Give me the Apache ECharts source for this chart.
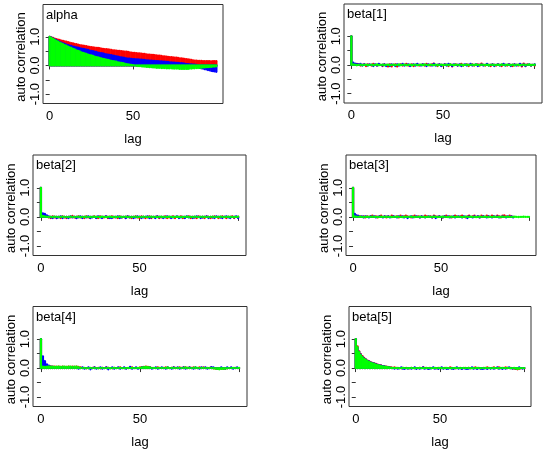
<!DOCTYPE html>
<html>
<head>
<meta charset="utf-8">
<script src="https://cdn.jsdelivr.net/npm/echarts@6/dist/echarts.min.js"></script>
<style>html,body{margin:0;padding:0;background:#fff}#c{width:550px;height:453px}</style>
</head>
<body>
<div id="c"></div>
<script>
// Panel names
const panelNames = ['alpha', 'beta[1]', 'beta[2]', 'beta[3]', 'beta[4]', 'beta[5]'];
// Tick values / labels
const xTickValues = [0, 50, 100];
const xLabelValues = [0, 50];
const yTickValues = [-1, -0.5, 0, 0.5, 1];
const yLabelValues = [-1, 0, 1];
const chainColors = ['#ff0000', '#0000ff', '#00ff00'];

// Autocorrelation values, index = lag (0..100). Order per panel: red, blue, green.
const alphaRed = [1.00,
 .98,.96,.94,.92,.90,.89,.87,.86,.84,.83,
 .81,.80,.78,.77,.75,.74,.73,.71,.70,.69,
 .68,.67,.66,.65,.64,.63,.62,.61,.61,.60,
 .59,.58,.57,.57,.56,.55,.54,.53,.53,.52,
 .51,.51,.50,.49,.48,.48,.47,.46,.45,.44,
 .44,.43,.42,.42,.41,.40,.40,.39,.38,.38,
 .37,.37,.36,.35,.34,.34,.33,.32,.32,.31,
 .30,.29,.29,.28,.27,.27,.26,.25,.25,.24,
 .23,.22,.21,.20,.19,.18,.17,.17,.16,.16,
 .16,.15,.15,.15,.15,.15,.14,.15,.15,.15];
const alphaBlue = [1.00,
 .97,.94,.91,.88,.85,.82,.80,.77,.75,.73,
 .71,.69,.68,.66,.65,.63,.62,.60,.59,.58,
 .57,.55,.54,.52,.51,.50,.48,.47,.45,.44,
 .43,.42,.40,.39,.38,.37,.36,.34,.33,.32,
 .31,.29,.28,.27,.26,.25,.24,.24,.23,.22,
 .22,.21,.21,.20,.20,.19,.19,.18,.18,.17,
 .17,.16,.16,.15,.15,.14,.14,.13,.13,.12,
 .12,.11,.11,.10,.10,.09,.09,.08,.08,.07,
 .06,.05,.05,.04,.04,.03,.03,.02,-.03,-.08,
 -.10,-.11,-.13,-.14,-.16,-.17,-.19,-.20,-.21,-.22];
const alphaGreen = [1.00,
 .96,.93,.89,.86,.83,.80,.77,.74,.71,.69,
 .66,.63,.61,.58,.56,.53,.51,.49,.46,.44,
 .42,.40,.38,.36,.35,.33,.31,.29,.28,.26,
 .25,.23,.22,.20,.19,.18,.16,.15,.14,.13,
 .11,.10,.09,.08,.06,.05,.04,.03,.02,.01,
 .00,-.01,-.02,-.02,-.03,-.04,-.04,-.05,-.05,-.06,
 -.06,-.07,-.07,-.08,-.08,-.08,-.09,-.09,-.09,-.10,
 -.10,-.10,-.10,-.11,-.11,-.11,-.11,-.12,-.12,-.12,
 -.12,-.12,-.12,-.11,-.11,-.10,-.10,-.09,-.09,-.08,
 -.08,-.07,-.07,-.06,-.06,-.05,-.05,-.04,-.04,-.03];

const beta1Red = [1.00,
 .05,.03,.04,.02,-.02,.00,.02,-.04,.02,.00,
 -.02,.04,.00,-.02,.02,.00,-.04,.02,.00,-.05,
 .02,-.05,.00,.02,-.05,.00,.02,-.02,.00,.04,
 -.02,.00,.02,-.04,.00,.02,-.02,.00,.02,-.02,
 .04,.00,-.02,.02,.05,.00,-.04,.02,.00,-.02,
 .02,.00,-.04,.02,-.05,.00,.02,-.02,.00,.04,
 -.02,.00,.02,-.04,.00,.02,-.02,.00,.02,-.02,
 .05,.00,-.02,.02,.00,-.04,.02,.00,-.02,.02,
 .00,-.04,.02,.00,-.02,.02,.00,-.04,.02,.00,
 -.02,.00,-.05,.05,-.04,.02,.00,-.02,.00,-.02];
const beta1Blue = [1.00,
 .08,.05,.03,.02,.04,-.02,.02,.00,-.02,.02,
 .00,-.04,.02,-.02,.04,.00,-.02,.02,-.04,.00,
 -.04,.02,.00,-.04,.02,-.02,.00,.04,-.02,.00,
 .02,-.04,.00,.02,-.02,.04,.00,-.02,.02,.00,
 -.04,.02,.00,-.02,.04,-.02,.00,.02,-.04,.00,
 .02,-.02,.04,.00,-.04,.02,.00,-.02,.02,-.04,
 .00,.02,-.02,.00,.04,-.02,.00,.02,-.04,.00,
 .02,-.02,.00,.04,-.02,.00,.02,-.04,.00,.02,
 -.02,.00,.04,-.02,.00,.02,-.04,.00,.02,-.02,
 .00,.04,-.02,.02,-.04,.00,.02,-.02,.00,.02];
const beta1Green = [1.00,
 .02,.01,-.01,.00,.01,-.01,.00,.01,-.01,.00,
 .01,-.01,.00,.02,-.01,.00,.01,-.01,.00,.01,
 -.01,.00,.01,-.01,.00,.02,-.01,.00,.01,-.01,
 .00,.01,-.02,.00,.01,-.01,.00,.01,-.01,.02,
 .00,-.01,.01,.00,-.01,.01,-.02,.00,.01,-.01,
 .00,.01,-.01,.02,.00,-.01,.01,.00,-.01,.01,
 -.02,.00,.01,-.01,.00,.01,-.01,.02,.00,-.01,
 .01,.00,-.01,.01,-.02,.00,.01,-.01,.00,.01,
 -.01,.02,.00,-.01,.01,.00,-.01,.01,-.02,.00,
 .01,-.01,.00,.01,-.01,.00,.02,-.01,.00,.01];

const beta2Red = [1.00,
 .06,.04,.03,-.02,-.04,.02,-.02,-.04,.00,-.04,
 .02,-.02,-.04,.00,-.02,.03,-.02,-.04,.02,-.02,
 .00,-.04,.02,-.02,-.04,.00,.02,-.02,-.04,.02,
 .00,-.02,.02,-.04,.00,.02,-.02,.00,-.04,.02,
 -.02,.00,-.04,.02,-.02,-.04,.00,.02,-.02,-.04,
 .02,.00,-.04,-.02,.02,-.04,.00,-.02,.02,-.04,
 -.02,.00,.02,-.04,-.02,.00,.02,-.04,.00,-.02,
 .02,-.04,-.02,.00,.02,-.04,.00,-.02,-.04,.02,
 .00,-.02,-.04,.02,.00,-.04,-.02,.02,.00,-.04,
 -.02,.02,.00,-.04,.00,-.02,.02,-.04,.00,-.02];
const beta2Blue = [1.00,
 .12,.10,.05,.02,-.02,-.04,.00,-.04,-.02,.02,
 -.04,.00,-.02,-.04,.02,-.02,.00,-.04,-.02,.02,
 -.04,.00,-.02,.02,-.04,-.02,.00,-.04,.02,-.02,
 -.04,.00,.02,-.02,-.04,-.04,.00,-.02,.02,-.04,
 -.02,.00,-.04,.02,-.02,.00,-.04,-.02,.02,.00,
 -.04,-.02,.00,.02,-.04,-.02,.00,-.04,.02,-.02,
 .00,-.04,-.02,.02,.00,-.04,-.02,.00,.02,-.04,
 -.02,.00,-.04,.02,-.02,.00,-.04,-.02,.02,.00,
 -.04,-.02,.00,.02,-.04,.00,-.02,-.04,.02,.00,
 -.02,-.04,.00,.02,-.02,-.04,.00,-.02,.02,-.04];
const beta2Green = [1.00,
 .03,.02,.01,-.01,.00,-.01,.01,.00,-.01,.00,
 .01,-.01,.00,-.01,.01,.00,-.01,.00,.01,-.01,
 .00,-.01,.01,.00,-.01,.00,.01,-.01,.00,-.01,
 .01,.00,-.01,.00,.01,-.01,.00,-.01,.00,.01,
 -.01,.00,.01,-.01,.00,-.01,.00,.01,-.01,.00,
 -.01,.01,.00,-.01,.00,.01,-.01,.00,-.01,.00,
 .01,-.01,.00,-.01,.01,.00,-.01,.00,.01,-.01,
 .00,-.01,.00,.01,-.01,.00,-.01,.01,.00,-.01,
 .00,.01,-.01,.00,-.01,.00,.01,-.01,.00,-.01,
 .01,.00,-.01,.00,.01,-.01,.00,-.01,.00,.01];

const beta3Red = [1.00,
 .05,.04,.03,.02,.00,.02,-.02,.02,.00,.02,
 .04,.00,.02,-.02,.02,.04,.00,.02,-.02,.02,
 .00,.04,.02,.00,.02,-.02,.04,.00,.02,.04,
 .02,.00,-.02,.02,.04,.00,.02,-.02,.02,.00,
 .04,.02,.00,.02,-.02,.04,.02,.00,.02,.00,
 -.02,.02,.04,.00,.02,-.02,.00,.04,.02,.00,
 .02,.04,.00,-.02,.02,.04,.00,.02,.04,.00,
 .02,-.02,.04,.02,.00,.04,.02,.00,.04,.02,
 .00,.04,.02,-.02,.04,.05,.02,.00,.04,.02,
 .00];
const beta3Blue = [1.00,
 .10,.05,.03,.00,.02,-.02,.02,.00,-.02,.02,
 .00,.02,-.02,.00,.02,.00,-.02,.02,.00,.02,
 -.02,.00,.02,.00,-.02,.02,.00,.02,-.02,.00,
 -.04,.00,.02,-.02,.00,.02,.00,-.02,.02,.00,
 -.02,.00,.02,.00,-.02,.02,-.04,.00,.02,.00,
 -.02,.02,.00,.02,-.02,.00,.02,-.02,.00,.02,
 .00,-.02,.02,.00,-.04,.02,.00,-.02,.02,.00,
 .02,-.02,.00,.02,.00,-.02,.02,.00,-.02,.02,
 .00,.02,-.02,.00,.02,.00,-.02,.02,.00,.02,
 -.02];
const beta3Green = [1.00,
 .02,.01,.00,.01,.00,-.01,.00,.01,.00,.00,
 .01,.00,.00,-.01,.00,.01,.00,.00,.01,.00,
 .00,-.01,.00,.00,.01,.00,.00,-.01,.00,.01,
 .00,.00,.01,.00,-.01,.00,.00,.01,.00,.00,
 -.01,.00,.01,.00,.00,.01,.00,-.01,.00,.00,
 .01,.00,.00,-.01,.00,.01,.00,.00,.01,.00,
 .00,-.01,.00,.01,.00,.00,.01,.00,.00,-.01,
 .00,.01,.00,.00,.01,.00,-.01,.00,.00,.01,
 .00,.00,-.01,.00,.01,.00,.00,.01,.00,.00,
 .00,.01,.00,-.01,.00,.00,.01,.00,.00,.00];

const beta4Red = [1.00,
 .30,.20,.10,.07,.06,.05,.05,.04,.05,.04,
 .05,.04,.04,.05,.04,.05,.04,.05,.04,.02,
 .01,.00,-.01,.01,.00,.01,.02,.00,.01,-.01,
 .01,.00,.02,.01,.00,-.01,.01,.00,.01,.02,
 .00,.01,-.01,.00,.01,.02,.00,.01,.00,.02,
 .03,.04,.05,.04,.02,.01,.00,.01,.02,.01,
 .00,.01,.02,.01,.00,.01,.02,.01,.00,.02,
 .01,.02,.02,.01,.02,.01,.02,.01,.00,.02,
 .01,.02,.01,.00,.01,.02,-.01,-.02,-.03,-.03,
 -.02,-.03,-.02,-.01,.00,.01,.00,.01,.00,.00];
const beta4Blue = [1.00,
 .40,.24,.13,.08,.05,.04,.03,.02,.03,.02,
 .03,.02,.01,.02,.01,.02,.00,.01,-.02,.00,
 .02,-.02,.00,.02,-.04,.00,.02,-.02,.00,.02,
 -.02,.00,.02,-.04,.00,.02,-.02,.00,.02,-.02,
 .00,.02,-.02,.00,.04,-.02,.00,.02,-.02,.00,
 .02,.02,.01,.00,.02,-.02,.00,.02,-.02,.00,
 .02,.00,-.02,.02,.00,-.02,.02,.00,.02,-.02,
 .00,.02,-.02,.00,.02,.00,-.02,.02,.00,-.02,
 .02,.00,.02,-.02,.00,.03,.02,.00,-.02,.00,
 .02,.00,-.02,.02,.00,.02,-.02,.00,.02,.00];
const beta4Green = [1.00,
 .05,.04,.05,.06,.05,.05,.04,.05,.05,.04,
 .05,.05,.04,.05,.05,.04,.05,.05,.03,.01,
 .00,.01,.00,-.01,.01,.00,.01,.00,-.01,.00,
 .01,.00,.00,.01,-.01,.00,.01,.00,.00,.01,
 .00,-.01,.00,.01,.00,.01,.00,.00,.01,.01,
 .02,.03,.04,.03,.02,.00,.01,.00,.01,.00,
 .01,.00,.01,.02,.00,.01,.01,.00,.01,.01,
 .00,.01,.02,.01,.01,.00,.01,.02,.01,.00,
 .01,.01,.00,.01,.00,.01,-.01,-.02,-.03,-.04,
 -.03,-.03,-.02,-.01,.00,.00,.01,.00,.00,.01];

const beta5Red = [1.00,
 .75,.58,.48,.41,.35,.30,.26,.23,.20,.18,
 .16,.14,.12,.10,.09,.07,.06,.05,.04,.03,
 .02,.01,.02,.00,.01,.00,-.01,.01,.00,.01,
 .00,-.01,.01,.00,.01,-.01,.00,.01,.00,.02,
 .01,.00,-.01,.01,.00,.01,.00,-.01,.01,.00,
 .01,.00,.01,-.01,.00,.02,.01,.00,-.01,.01,
 .00,.01,-.01,.00,.01,.00,.01,-.01,.00,.01,
 .02,.00,.01,-.01,.00,.01,.00,.02,.01,.00,
 .01,.02,.00,.01,.02,.01,.00,.01,.02,.01,
 .00,.01,-.01,-.02,-.03,-.04,-.03,-.01,.00,-.01];
const beta5Blue = [1.00,
 .70,.56,.46,.39,.33,.29,.25,.22,.19,.17,
 .15,.13,.11,.09,.08,.07,.06,.04,.03,.02,
 .01,.00,-.02,.00,-.02,.00,.02,-.02,-.03,.00,
 -.02,.00,-.02,.00,.02,-.03,.00,-.02,.00,.02,
 -.02,.00,-.03,-.02,.00,.02,-.02,.00,-.03,.00,
 .02,-.02,.00,-.03,-.02,.00,-.02,-.03,.00,.02,
 -.02,.00,-.03,.00,-.02,-.03,-.02,.00,.02,-.02,
 .00,-.03,.00,-.02,-.03,-.02,.00,-.03,.00,-.02,
 .00,-.02,.00,.02,-.02,.00,-.03,.00,-.02,.00,
 .02,.00,-.02,.00,-.02,.00,.02,.00,-.02,.00];
const beta5Green = [1.00,
 .72,.55,.45,.38,.32,.28,.24,.21,.18,.16,
 .14,.12,.10,.09,.07,.06,.05,.04,.03,.02,
 .01,.01,.00,.01,.00,-.01,.00,.01,.00,.00,
 -.01,.00,.01,.00,-.01,.00,.00,.01,.00,-.01,
 .00,.01,.00,.00,-.01,.00,.01,.00,.00,.01,
 .00,-.01,.00,.01,.00,.00,-.01,.00,.01,.00,
 .00,-.01,.00,.01,.00,.00,.01,.00,-.01,.00,
 .00,.01,.00,-.01,.00,.00,.01,.00,.00,-.01,
 .00,.01,.00,.00,-.01,.00,.01,.00,.00,.01,
 .00,-.01,.00,.01,-.02,-.03,-.02,.00,.00,.00];

const panelSeries = [
  [alphaRed, alphaBlue, alphaGreen],
  [beta1Red, beta1Blue, beta1Green],
  [beta2Red, beta2Blue, beta2Green],
  [beta3Red, beta3Blue, beta3Green],
  [beta4Red, beta4Blue, beta4Green],
  [beta5Red, beta5Blue, beta5Green]
];

// Layout of each plotting box: [left, top, width, height] in px
const boxes = [
  [43, 4.5, 180, 99],
  [344, 4, 198, 99],
  [33, 155, 213, 100.5],
  [346, 155, 190, 100.5],
  [33, 306.5, 214, 100],
  [349, 306.5, 182, 100]
];

const FONT = '"Liberation Sans", Arial, Helvetica, sans-serif';
const LINE_W = 2.3;
const grids = [], xAxes = [], yAxes = [], series = [], titles = [];

function spikeRenderer(color) {
  // R-style type="h": vertical line from 0 to value at each lag
  return function (params, api) {
    const lag = api.value(0), v = api.value(1);
    const p0 = api.coord([lag, 0]);
    const p1 = api.coord([lag, v]);
    return {
      type: 'line',
      shape: {x1: p0[0], y1: p0[1], x2: p1[0], y2: p1[1] + (v === 0 ? 0.01 : 0)},
      style: {stroke: color, lineWidth: LINE_W, lineCap: 'round'}
    };
  };
}

boxes.forEach((b, i) => {
  grids.push({left: b[0], top: b[1], width: b[2], height: b[3], show: true,
    borderColor: '#333', borderWidth: 1, backgroundColor: 'transparent', containLabel: false});
  titles.push({text: panelNames[i], left: b[0] + 3, top: b[1] + 4, padding: 0,
    textStyle: {fontSize: 13, fontWeight: 'normal', color: '#000', fontFamily: FONT}});
  xAxes.push({type: 'value', gridIndex: i, min: -4, max: 104,
    axisLine: {show: false}, splitLine: {show: false},
    axisTick: {show: true, inside: false, length: 4, customValues: xTickValues, lineStyle: {color: '#333', width: 1}},
    axisLabel: {show: true, customValues: xLabelValues, margin: 6, fontSize: 13, color: '#000', fontFamily: FONT},
    name: 'lag', nameLocation: 'middle', nameGap: 29,
    nameTextStyle: {fontSize: 13, color: '#000', fontFamily: FONT}});
  yAxes.push({type: 'value', gridIndex: i, min: -1.328, max: 2.128,
    axisLine: {show: false}, splitLine: {show: false},
    axisTick: {show: true, inside: false, length: 4, customValues: yTickValues, lineStyle: {color: '#333', width: 1}},
    axisLabel: {show: true, customValues: yLabelValues, rotate: 90, margin: 1, fontSize: 13, color: '#000', fontFamily: FONT,
      formatter: v => Number(v).toFixed(1)},
    name: 'auto correlation', nameLocation: 'middle', nameGap: 12.5,
    nameTextStyle: {fontSize: 13, color: '#000', fontFamily: FONT, padding: [0, 6, 0, 0]}});
  panelSeries[i].forEach((vals, c) => {
    series.push({type: 'custom', xAxisIndex: i, yAxisIndex: i, clip: true,
      renderItem: spikeRenderer(chainColors[c]),
      encode: {x: 0, y: 1},
      data: vals.map((v, lag) => [lag, v]), silent: true, animation: false});
  });
});

const chart = echarts.init(document.getElementById('c'), null, {renderer: 'canvas'});
chart.setOption({
  animation: false,
  backgroundColor: '#fff',
  textStyle: {fontFamily: FONT},
  title: titles, grid: grids, xAxis: xAxes, yAxis: yAxes, series: series
});
</script>
</body>
</html>
